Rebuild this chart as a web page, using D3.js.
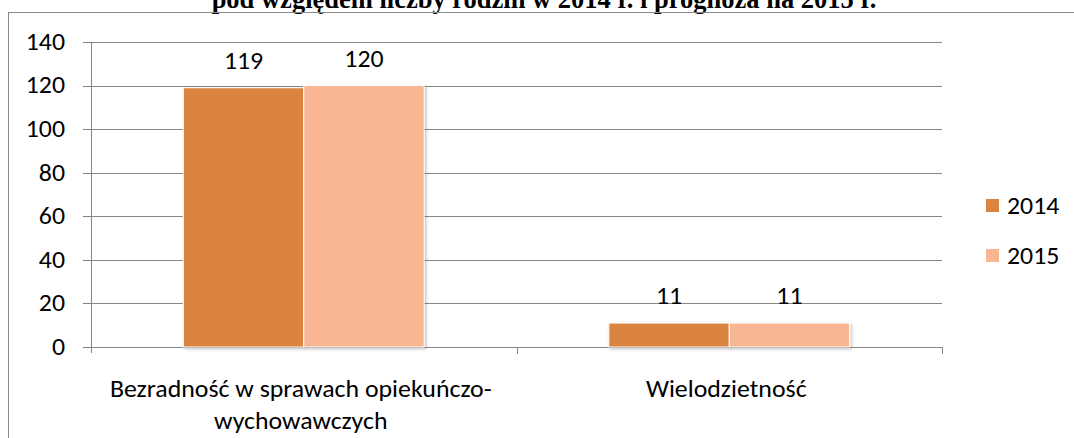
<!DOCTYPE html>
<html>
<head>
<meta charset="utf-8">
<script src="https://cdn.jsdelivr.net/npm/d3@7"></script>
<style>
  body { margin: 0; background: #fff; }
  text { font-family: Carlito, Lato, "Open Sans", sans-serif; fill: #000; }
</style>
</head>
<body>
<div id="chart"></div>
<script>
// data
var categories = ["Bezradność w sprawach opiekuńczo-|wychowawczych", "Wielodzietność"];
var seriesNames = ["2014", "2015"];
var values2014 = [119, 11];
var values2015 = [120, 11];
var yTicks = [0, 20, 40, 60, 80, 100, 120, 140];
var title = "pod względem liczby rodzin w 2014 r. i  prognoza na 2015 r.";

var colors = ["#DA843F", "#F9B693"];
var fontSize = "24px";
var stretch = 1.077; // the source picture is a little wider than tall

var svgWidth = 1074, svgHeight = 438;
var margin = { top: 42, left: 91, right: 132, bottom: 91 };
var width = svgWidth - margin.left - margin.right;
var height = svgHeight - margin.top - margin.bottom;

var svg = d3.select("#chart").append("svg")
  .attr("width", svgWidth)
  .attr("height", svgHeight);

// place a text at (x,y) with the horizontal stretch
function put(sel, x, y) {
  return sel.attr("transform", `translate(${x},${y}) scale(${stretch},1)`);
}

var defs = svg.append("defs");
var f = defs.append("filter").attr("id", "shadow")
  .attr("x", "-10%").attr("y", "-10%").attr("width", "130%").attr("height", "130%");
f.append("feDropShadow").attr("dx", 1.5).attr("dy", 1.5).attr("stdDeviation", 1.5)
  .attr("flood-color", "#000").attr("flood-opacity", 0.25);

// title (only its lower part shows, as in the source)
svg.append("text")
  .attr("x", 544).attr("y", 8)
  .attr("text-anchor", "middle")
  .style("font-family", "'Liberation Serif', 'Times New Roman', serif")
  .style("font-weight", "bold")
  .style("font-size", "26.5px")
  .text(title);

// outer frame
svg.append("rect")
  .attr("x", 8.5).attr("y", 12.5)
  .attr("width", 1080).attr("height", 440)
  .attr("fill", "none").attr("stroke", "#8a8a8a").attr("stroke-width", 1);

var g = svg.append("g").attr("transform", `translate(${margin.left}, ${margin.top})`);

var x0 = d3.scaleBand().domain(categories).range([0, width]).paddingInner(0).paddingOuter(0);
var x1 = d3.scaleBand().domain(seriesNames).range([x0.bandwidth() * 0.217, x0.bandwidth() * 0.783]).padding(0);
var y = d3.scaleLinear().domain([0, 140]).range([height, 0]);

// gridlines
g.selectAll("line.grid").data(yTicks).enter().append("line")
  .attr("class", "grid")
  .attr("x1", -8).attr("x2", width)
  .attr("y1", d => Math.round(y(d)) + 0.5).attr("y2", d => Math.round(y(d)) + 0.5)
  .attr("stroke", "#868686").attr("stroke-width", 1);

// y axis line
g.append("line")
  .attr("x1", 0.5).attr("x2", 0.5)
  .attr("y1", 0).attr("y2", height + 6)
  .attr("stroke", "#868686");

// category ticks
var catEdges = [0, x0.bandwidth(), width];
g.selectAll("line.ctick").data(catEdges.slice(1)).enter().append("line")
  .attr("class", "ctick")
  .attr("x1", d => Math.round(d) + 0.5).attr("x2", d => Math.round(d) + 0.5)
  .attr("y1", height).attr("y2", height + 7)
  .attr("stroke", "#868686");

// y tick labels
g.selectAll("text.ylab").data(yTicks).enter().append("text")
  .attr("class", "ylab")
  .attr("dy", "0.33em")
  .attr("text-anchor", "end")
  .style("font-size", fontSize)
  .each(function(d) { put(d3.select(this), -26, y(d)); })
  .text(d => d);

// bars
var rows = categories.map((c, i) => ({ cat: c, vals: [values2014[i], values2015[i]] }));
var cg = g.selectAll("g.cat").data(rows).enter().append("g")
  .attr("transform", d => `translate(${x0(d.cat)},0)`);

cg.selectAll("rect").data(d => d.vals.map((v, j) => ({ key: seriesNames[j], v: v, j: j })))
  .enter().append("rect")
  .attr("x", d => x1(d.key))
  .attr("width", x1.bandwidth())
  .attr("y", d => y(d.v))
  .attr("height", d => height - y(d.v))
  .attr("fill", (d) => colors[d.j])
  .attr("stroke", "#fff").attr("stroke-width", 1)
  .attr("filter", "url(#shadow)");

cg.selectAll("text.val").data(d => d.vals.map((v, j) => ({ key: seriesNames[j], v: v })))
  .enter().append("text")
  .attr("class", "val")
  .attr("text-anchor", "middle")
  .style("font-size", fontSize)
  .each(function(d) { put(d3.select(this), x1(d.key) + x1.bandwidth() / 2, y(d.v) - 19); })
  .text(d => d.v);

// category labels
g.selectAll("text.xlab").data(categories).enter().append("text")
  .attr("class", "xlab")
  .attr("text-anchor", "middle")
  .style("font-size", fontSize)
  .each(function(d) {
    var t = put(d3.select(this), x0(d) + x0.bandwidth() / 2 - 3, height + 50);
    d.split("|").forEach((line, i) => {
      t.append("tspan").attr("x", 0).attr("y", i * 32).text(line);
    });
  });

// legend
var lg = svg.append("g").attr("transform", "translate(986, 199)");
seriesNames.forEach((s, i) => {
  var row = lg.append("g").attr("transform", `translate(0, ${i * 50})`);
  row.append("rect").attr("width", 13).attr("height", 13).attr("fill", colors[i]);
  put(row.append("text"), 21, 7).attr("dy", "0.33em")
    .style("font-size", fontSize).text(s);
});
</script>
</body>
</html>
